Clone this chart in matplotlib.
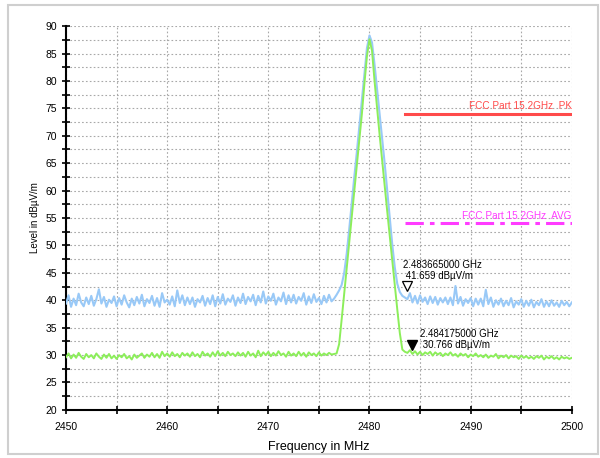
import numpy as np
import matplotlib
matplotlib.use('Agg')
import matplotlib.pyplot as plt
from matplotlib.patches import Rectangle
from matplotlib.transforms import offset_copy

plt.rcParams['font.family'] = ['Liberation Sans', 'DejaVu Sans']

# Frecuencias en MHz, paso de 0.25
freq = np.arange(2450, 2500.01, 0.25)

# Traza pico (azul)
pk_left = [
    39.4, 40.9, 38.8, 40.3, 39.1, 41.2, 39.6, 38.9, 40.5, 39.3,
    40.8, 39.0, 40.2, 42.0, 39.4, 40.6, 38.8, 40.1, 39.5, 40.7,
    38.9, 40.4, 39.2, 40.9, 39.6, 38.7, 40.3, 39.1, 40.6, 39.4,
    41.0, 38.9, 40.2, 39.5, 40.8, 39.0, 40.4, 38.8, 41.3, 39.6,
    40.1, 39.2, 40.7, 38.9, 41.8, 39.5, 40.9, 39.1, 40.5, 39.3,
    40.5, 38.8, 40.2, 39.6, 40.8, 39.0, 40.4, 39.3, 40.9, 38.9,
    40.6, 39.4, 41.1, 39.2, 40.3, 39.7, 40.9, 39.0, 40.5, 39.5,
    41.2, 39.3, 40.6, 39.8, 41.0, 39.1, 40.8, 39.6, 41.6, 39.4,
    40.7, 39.9, 41.2, 39.2, 40.5, 39.8, 41.4, 39.3, 40.9, 39.6,
    41.0, 39.4, 40.6, 39.9, 41.3, 39.2, 40.7, 39.5, 41.1, 39.7,
    40.4, 39.3, 40.8, 39.6, 41.0, 39.8,
]
pk_peak = [
    40.3, 41.0, 41.8, 42.8, 45.0, 48.5, 53.0, 57.8, 62.5, 67.0,
    71.8, 76.5, 81.5, 86.0, 88.3, 87.0, 83.0, 78.5, 74.0, 69.5,
    65.0, 60.0, 55.0, 50.2, 46.0, 43.0, 41.5, 40.8, 40.5,
]
pk_right = [
    40.2, 41.3, 39.6, 40.8, 39.4, 40.9, 39.7, 40.5, 39.3, 40.7,
    39.5, 40.6, 39.2, 40.4, 39.6, 40.5, 39.3, 40.5, 39.1, 42.6,
    39.4, 40.6, 39.0, 40.2, 39.5, 40.4, 38.9, 40.3, 39.2, 40.3,
    38.9, 41.9, 39.3, 40.5, 38.8, 40.0, 39.2, 40.3, 38.9, 39.9,
    39.1, 40.4, 38.7, 39.8, 39.2, 40.2, 38.8, 39.9, 39.0, 40.1,
    38.7, 39.7, 39.1, 40.2, 38.8, 39.8, 38.9, 40.0, 39.0, 39.6,
    38.8, 39.9, 39.1, 39.7, 38.9, 39.6,
]

# Traza promedio (verde)
av_left = [
    29.6, 30.3, 29.4, 30.1, 29.5, 30.4, 29.7, 29.3, 30.2, 29.6,
    30.0, 29.4, 30.3, 29.7, 29.3, 30.1, 29.5, 30.2, 29.4, 29.9,
    29.3, 30.0, 29.6, 30.2, 29.4, 29.8, 29.2, 30.1, 29.5, 29.9,
    30.3, 29.5, 30.1, 29.7, 30.4, 29.6, 30.2, 29.5, 30.6, 29.8,
    30.3, 29.7, 30.5, 29.8, 30.2, 29.6, 30.4, 29.9, 30.3, 29.7,
    30.5, 29.8, 30.2, 29.6, 30.6, 29.9, 30.3, 29.7, 30.5, 29.8,
    30.7, 29.9, 30.4, 29.8, 30.6, 30.0, 30.3, 29.8, 30.5, 29.9,
    30.4, 29.7, 30.6, 29.9, 30.3, 29.6, 30.8, 29.8, 30.5, 30.0,
    30.6, 29.8, 30.4, 29.9, 30.7, 30.0, 30.3, 29.7, 30.6, 29.9,
    30.3, 29.8, 30.6, 29.9, 30.4, 29.7, 30.5, 30.0, 30.3, 29.8,
    30.5, 29.9, 30.3, 30.0, 30.4, 30.1,
]
av_peak = [
    30.2, 30.3, 32.0, 36.5, 41.2, 46.0, 50.8, 55.5, 60.2, 64.8,
    69.5, 74.0, 79.5, 84.5, 87.6, 85.5, 80.0, 75.0, 70.2, 65.5,
    61.0, 56.3, 51.8, 47.3, 42.8, 38.3, 34.0, 31.0, 30.6,
]
av_right = [
    30.4, 30.9, 30.2, 30.7, 30.1, 30.6, 30.0, 30.5, 30.2, 30.6,
    29.9, 30.5, 30.1, 30.4, 29.8, 30.3, 30.0, 30.5, 29.9, 30.2,
    29.7, 30.3, 29.9, 30.2, 29.6, 30.1, 29.8, 30.3, 29.7, 30.0,
    29.6, 30.1, 29.5, 29.9, 29.7, 30.2, 29.4, 29.9, 29.6, 30.0,
    29.4, 29.9, 29.6, 29.8, 29.3, 29.9, 29.5, 29.8, 29.4, 29.7,
    29.3, 29.8, 29.5, 29.9, 29.2, 29.7, 29.4, 29.8, 29.3, 29.6,
    29.2, 29.7, 29.4, 29.6, 29.3, 29.5,
]

pk_trace = pk_left + pk_peak + pk_right
av_trace = av_left + av_peak + av_right

# Lineas limite
limit_start = 2483.5
limit_end = 2500
limit_pk = 74
limit_av = 54
label_pk = 'FCC Part 15 2GHz  PK'
label_av = 'FCC Part 15 2GHz  AVG'

# Marcadores
m1_f, m1_v = 2483.665, 41.659
m2_f, m2_v = 2484.175, 30.766

fig = plt.figure(figsize=(6, 4.58), dpi=100)
ax = fig.add_axes([0.11, 0.105, 0.843, 0.838])

# marco exterior gris
fig.patches.append(Rectangle((0.013, 0.009), 0.983, 0.98, transform=fig.transFigure,
                             fill=False, edgecolor='#cfcfcf', linewidth=1.5))

ax.plot(freq, pk_trace, color='#99c9f7', linewidth=1.5, zorder=3)
ax.plot(freq, av_trace, color='#8cee5a', linewidth=1.4, zorder=4)

ax.plot([limit_start, limit_end], [limit_pk, limit_pk], color='#ff4b4b', linewidth=2.2, zorder=5)
ax.plot([limit_start, limit_end], [limit_av, limit_av], color='#ff3cff', linewidth=2.2,
        linestyle=(0, (6, 2, 1.5, 2)), zorder=5)
ax.text(limit_end, limit_pk + 0.5, label_pk, color='#ff4b4b', fontsize=7.2, ha='right', va='bottom')
ax.text(limit_end, limit_av + 0.5, label_av, color='#ff3cff', fontsize=7.2, ha='right', va='bottom')

# triangulos con la punta sobre el valor
tr_up = offset_copy(ax.transData, fig=fig, x=0, y=4, units='points')
ax.plot(m1_f, m1_v, marker='v', markersize=7, markerfacecolor='white',
        markeredgecolor='black', markeredgewidth=0.9, transform=tr_up, zorder=6)
ax.plot(m2_f, m2_v, marker='v', markersize=7, color='black', transform=tr_up, zorder=6)
ax.text(2483.3, 45.4, '2.483665000 GHz\n 41.659 dBµV/m', fontsize=7, ha='left', va='center',
        linespacing=1.1, zorder=6)
ax.text(2485.0, 32.9, '2.484175000 GHz\n 30.766 dBµV/m', fontsize=7, ha='left', va='center',
        linespacing=1.1, zorder=6)

ax.set_xlim(2450, 2500)
ax.set_ylim(20, 90)
ax.set_xticks(np.arange(2450, 2501, 10))
ax.set_xticks(np.arange(2450, 2501, 5), minor=True)
ax.set_yticks(np.arange(20, 91, 5))
ax.set_yticks(np.arange(20, 91, 2.5), minor=True)
ax.tick_params(which='both', direction='inout', length=6, width=1.2, labelsize=7.5, colors='black')
ax.tick_params(axis='x', pad=6)
ax.grid(which='both', color='#a8a8a8', linestyle=(0, (1.5, 2)), linewidth=0.8)
ax.set_axisbelow(True)

for s in ['top', 'right']:
    ax.spines[s].set_visible(False)
for s in ['left', 'bottom']:
    ax.spines[s].set_linewidth(1.5)

ax.set_xlabel('Frequency in MHz', fontsize=9, labelpad=6)
ax.set_ylabel('Level in dBµV/m', fontsize=7, labelpad=4)

fig.savefig('out.png', dpi=100)
